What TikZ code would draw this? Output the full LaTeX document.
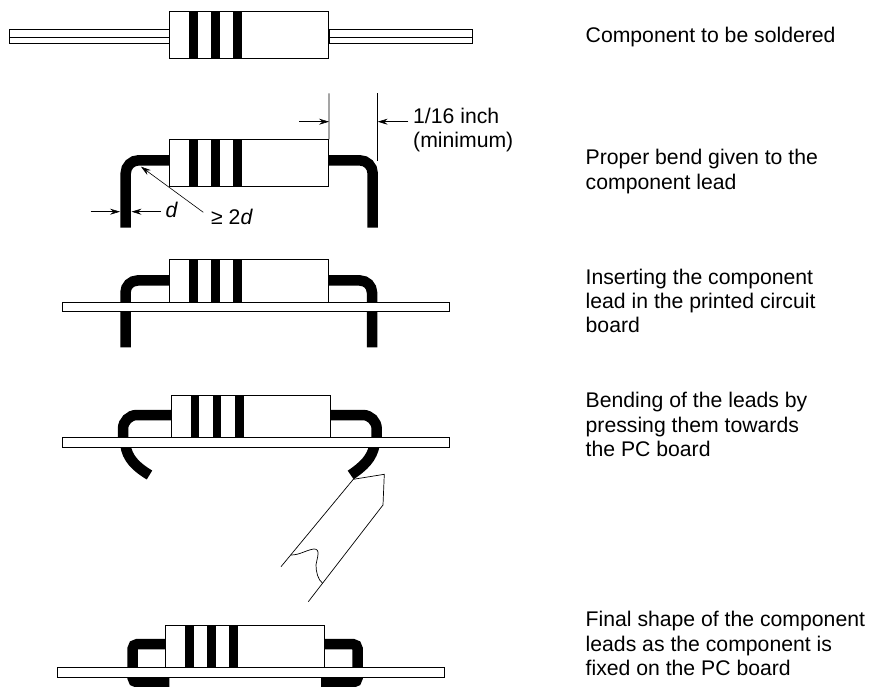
\documentclass[tikz,border=0pt]{standalone}
\usepackage{fontspec}
\setmainfont{Liberation Sans}
\usetikzlibrary{positioning, arrows.meta}

\begin{document}
\begin{tikzpicture}[
    x=1pt, y=-1pt,
    body/.style={draw, fill=white, line width=0.7pt, minimum width=159pt, minimum height=47pt, inner sep=0pt},
    bandbar/.style={fill=black, minimum width=8.8pt, minimum height=47.5pt, inner sep=0pt},
    board/.style={draw, fill=white, line width=0.8pt, minimum width=387pt, minimum height=9.5pt, inner sep=0pt},
    wire/.style={draw, line width=0.7pt, minimum height=14.3pt, inner sep=0pt},
    lead/.style={line width=10.5pt},
    thinline/.style={line width=0.7pt},
    dim/.style={line width=0.6pt, -{Stealth[length=10pt, width=6pt, inset=3.5pt]}},
    caption/.style={anchor=base west, align=left, inner sep=0pt, font=\fontsize{21.2}{24.3}\selectfont},
    label/.style={inner sep=0pt, font=\fontsize{21.2}{24.3}\selectfont},
]
\useasboundingbox (0,0) rectangle (871,687);

% Row 1: Component to be soldered
\node[wire, minimum width=160pt] (wire1l) at (89.6,36.2) {};
\node[wire, minimum width=143pt] (wire1r) at (400.5,36.2) {};
\node[body] (body1) at (249.2,34.8) {};
\draw[thinline] (wire1l.west |- 0,37.7) -- (body1.west |- 0,37.7);
\draw[thinline] (body1.east |- 0,37.7) -- (wire1r.east |- 0,37.7);
\node[bandbar, right=19.5pt of body1.west] (band1a) {};
\node[bandbar, right=41.3pt of body1.west] (band1b) {};
\node[bandbar, right=63.8pt of body1.west] (band1c) {};
\node[caption] (text1) at (585.5,42.7) {Component to be soldered};

% Row 2: Proper bend
\coordinate (tip2l) at (125.7,227.7);
\coordinate (tip2r) at (372.7,227.7);
\node[body] (body2) at (249.2,163.2) {};
\draw[lead, rounded corners=13pt] (tip2l) |- (body2.west |- 0,160.3);
\draw[lead, rounded corners=13pt] (tip2r) |- (body2.east |- 0,160.3);
\node[bandbar, right=19.5pt of body2.west] (band2a) {};
\node[bandbar, right=41.3pt of body2.west] (band2b) {};
\node[bandbar, right=63.8pt of body2.west] (band2c) {};
\coordinate (dimtopa) at (329,93.3);
\coordinate (dimtopb) at (377.7,93.3);
\coordinate (dimfroma) at (299,121.7);
\coordinate (dimfromb) at (408.3,121.7);
\draw[thinline] (dimtopa) -- (body2.north east);
\draw[thinline] (dimtopb) -- (377.7,160.7);
\draw[dim] (dimfroma) -- (dimfroma -| dimtopa);
\draw[dim] (dimfromb) -- (dimfromb -| dimtopb);
\node[label, anchor=base west, align=left] (inch) at (413,147.5) {1/16 inch\\(minimum)};
\coordinate (dfroma) at (90.7,211.7);
\coordinate (dfromb) at (161,211.7);
\draw[dim] (dfroma) -- (120,211.7);
\draw[dim] (dfromb) -- (131.5,211.7);
\node[label, anchor=base west] (dlabel) at (165.5,218) {\textit{d}};
\node[label, anchor=base west] (twod) at (211,224.3) {≥ 2\textit{d}};
\draw[dim] (203.3,212.3) -- (141,166.7);
\node[caption] (text2) at (585.5,189.3) {Proper bend given to the\\component lead};

% Row 3: Inserting in the board
\coordinate (tip3l) at (125.5,347.5);
\coordinate (tip3r) at (372,347.5);
\node[body] (body3) at (249,283.3) {};
\draw[lead, rounded corners=12pt] (tip3l) |- (body3.west |- 0,280.5);
\draw[lead, rounded corners=12pt] (tip3r) |- (body3.east |- 0,280.5);
\node[bandbar, right=19.5pt of body3.west] (band3a) {};
\node[bandbar, right=41.5pt of body3.west] (band3b) {};
\node[bandbar, right=64pt of body3.west] (band3c) {};
\node[board] (board3) at (256.2,306.7) {};
\node[caption] (text3) at (585.5,332.7) {Inserting the component\\lead in the printed circuit\\board};

% Row 4: Bending of the leads, with the tool
\coordinate (tip4l) at (149.5,475);
\coordinate (tip4r) at (350.7,475);
\node[body] (body4) at (250.8,419) {};
\draw[lead, rounded corners=14pt] (123,440) |- (body4.west |- 0,415);
\draw[lead, rounded corners=14pt] (376.7,440) |- (body4.east |- 0,415);
\draw[lead] (125.5,445) .. controls (127,458) and (136,467) .. (tip4l);
\draw[lead] (374.5,445) .. controls (372,458) and (364,466) .. (tip4r);
\node[bandbar, right=19.5pt of body4.west] (band4a) {};
\node[bandbar, right=41.5pt of body4.west] (band4b) {};
\node[bandbar, right=64pt of body4.west] (band4c) {};
\node[board] (board4) at (256.2,442.3) {};
\draw[thinline] (308.3,601.7) -- (383,505) -- (384.3,474.3) -- (353.3,479.3) -- (281,566.7);
\draw[thinline] (291,555) .. controls (300,555) and (306,550) .. (314,549)
    .. controls (321,549) and (317,558) .. (316,565)
    .. controls (316,572) and (318,580) .. (322.7,583.3);
\node[caption] (text4) at (585.5,456.5) {Bending of the leads by\\pressing them towards\\the PC board};

% Row 5: Final shape
\node[body] (body5) at (245.2,648.6) {};
\draw[lead, rounded corners=5pt] (132.5,670) |- (body5.west |- 0,644);
\draw[lead, rounded corners=5pt] (357.7,670) |- (body5.east |- 0,644);
\draw[lead, rounded corners=5pt] (132.5,670) |- (169.3,682.5);
\draw[lead, rounded corners=5pt] (357.7,670) |- (321,682.5);
\node[bandbar, right=19.5pt of body5.west] (band5a) {};
\node[bandbar, right=41.2pt of body5.west] (band5b) {};
\node[bandbar, right=63.8pt of body5.west] (band5c) {};
\node[board] (board5) at (250.7,672.3) {};
\node[caption] (text5) at (585.5,675.3) {Final shape of the component\\leads as the component is\\fixed on the PC board};

\end{tikzpicture}
\end{document}
